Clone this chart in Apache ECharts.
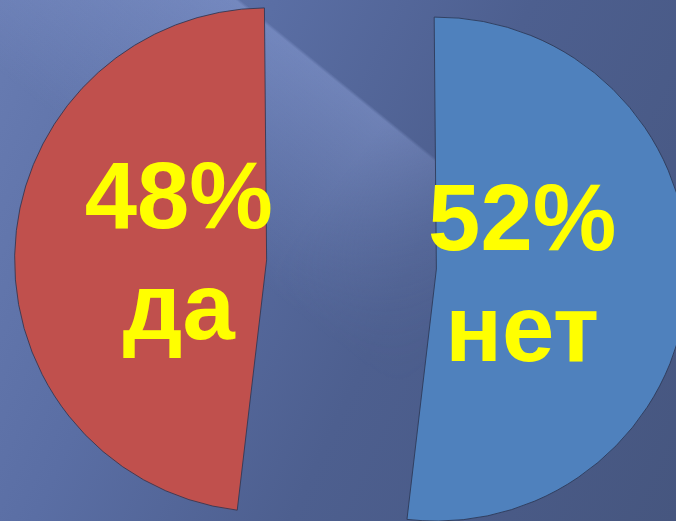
<!DOCTYPE html>
<html>
<head>
<meta charset="utf-8">
<script src="https://cdn.jsdelivr.net/npm/echarts@6/dist/echarts.min.js"></script>
<style>
  html, body { margin: 0; padding: 0; }
  #wrap {
    position: relative;
    width: 676px; height: 521px;
    background: linear-gradient(115deg, #687cb2 0%, #5a6ea4 30%, #4d5f8f 58%, #46567f 100%);
  }
  #streak {
    position: absolute; left: 0; top: 0; width: 676px; height: 521px;
    background: linear-gradient(219deg, rgba(0,0,0,0) 33%, rgba(150,170,225,0.42) 33.4%, rgba(150,170,225,0.22) 45%, rgba(150,170,225,0) 58%);
    -webkit-mask-image: linear-gradient(129deg, #000 0%, #000 44%, rgba(0,0,0,0) 66%);
    mask-image: linear-gradient(129deg, #000 0%, #000 44%, rgba(0,0,0,0) 66%);
  }
  #chart { position: absolute; left: 0; top: 0; width: 676px; height: 521px; }
</style>
</head>
<body>
<div id="wrap">
  <div id="streak"></div>
  <div id="chart"></div>
</div>
<script>
const categories = ['нет', 'да'];
const values = [52, 48];
const sliceColors = ['#4f81bd', '#c0504d'];

const chart = echarts.init(document.getElementById('chart'), null, { renderer: 'canvas' });

chart.setOption({
  backgroundColor: 'transparent',
  animation: false,
  series: [{
    type: 'pie',
    center: [351.5, 264.5],
    radius: 252,
    startAngle: 90.5,
    clockwise: true,
    selectedMode: 'multiple',
    selectedOffset: 85,
    silent: true,
    emphasis: { disabled: true },
    itemStyle: { borderColor: 'rgba(45,55,85,0.85)', borderWidth: 1 },
    label: {
      show: true,
      position: 'inside',
      formatter: '{d}%\n{b}',
      color: '#ffff00',
      fontFamily: 'Liberation Sans, Arial, sans-serif',
      fontWeight: 'bold',
      fontSize: 94,
      lineHeight: 111
    },
    labelLine: { show: false },
    labelLayout: function (p) {
      return p.dataIndex === 0 ? { dx: -43, dy: 4 } : { dx: 41, dy: 5 };
    },
    data: categories.map(function (name, i) {
      return {
        name: name,
        value: values[i],
        selected: true,
        itemStyle: { color: sliceColors[i] },
        select: { itemStyle: { color: sliceColors[i] } }
      };
    })
  }]
});
</script>
</body>
</html>
